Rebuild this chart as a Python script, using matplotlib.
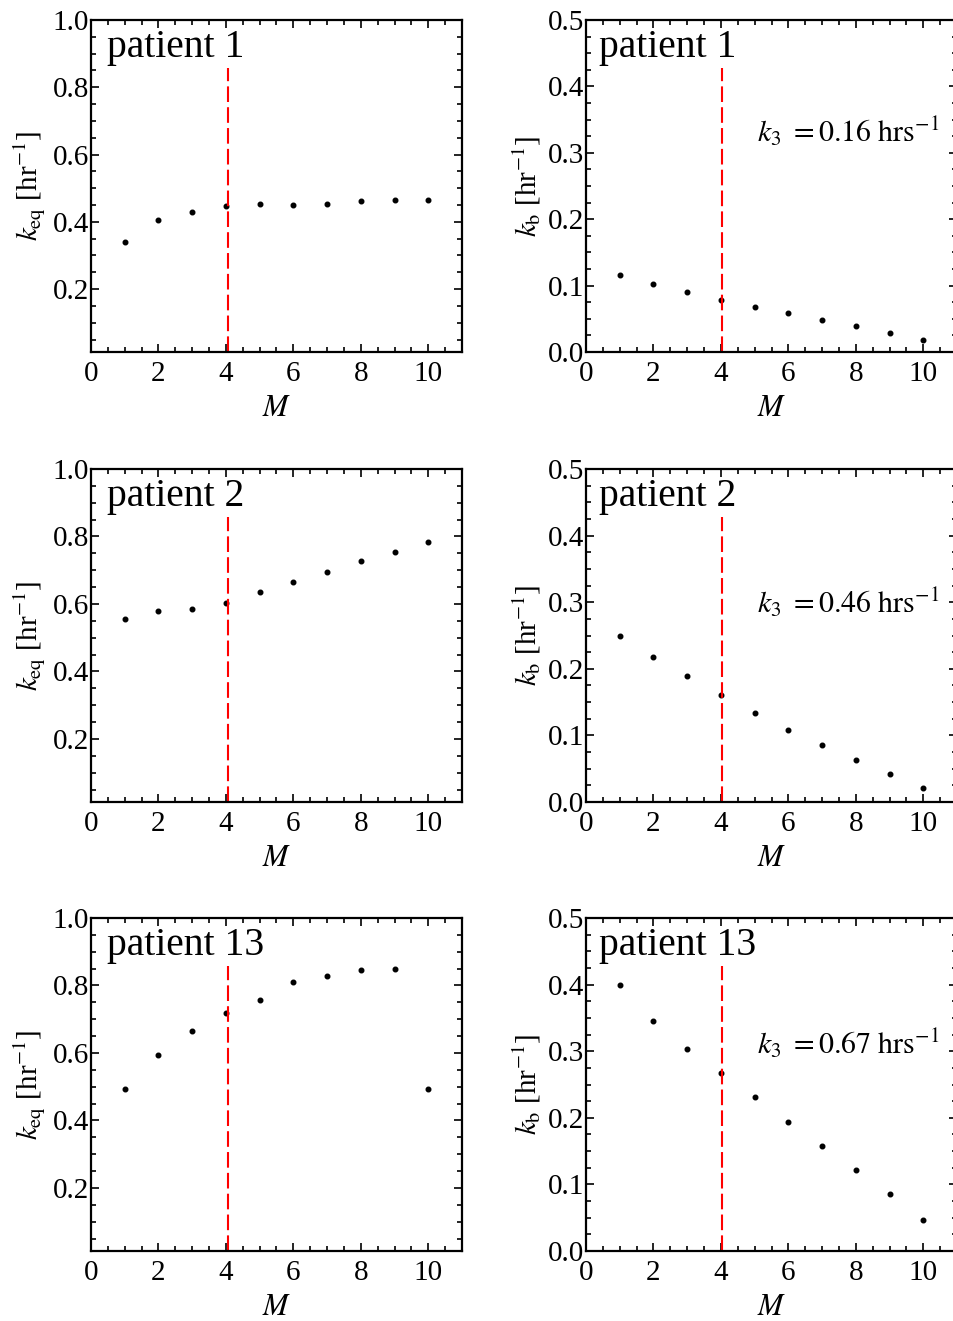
import numpy as np
import matplotlib
matplotlib.use("Agg")
import matplotlib.pyplot as plt
from matplotlib.ticker import MultipleLocator, FormatStrFormatter

# --- data ---
M = [1, 2, 3, 4, 5, 6, 7, 8, 9, 10]
patients = ["patient 1", "patient 2", "patient 13"]

keq_p1 = [0.341, 0.406, 0.430, 0.447, 0.452, 0.449, 0.454, 0.461, 0.464, 0.466]
keq_p2 = [0.556, 0.580, 0.585, 0.604, 0.634, 0.664, 0.695, 0.727, 0.755, 0.783]
keq_p13 = [0.492, 0.593, 0.664, 0.718, 0.758, 0.811, 0.829, 0.846, 0.850, 0.492]

kb_p1 = [0.116, 0.102, 0.090, 0.078, 0.068, 0.058, 0.048, 0.039, 0.029, 0.018]
kb_p2 = [0.250, 0.218, 0.189, 0.161, 0.134, 0.108, 0.085, 0.063, 0.042, 0.021]
kb_p13 = [0.399, 0.346, 0.304, 0.268, 0.231, 0.194, 0.158, 0.122, 0.085, 0.047]

k3_values = ["0.16", "0.46", "0.67"]
k3_text_y = [0.633, 0.567, 0.592]  # axes fraction of text baseline

keq_all = [keq_p1, keq_p2, keq_p13]
kb_all = [kb_p1, kb_p2, kb_p13]

plt.rcParams["font.family"] = ["Liberation Serif", "DejaVu Serif"]
plt.rcParams["mathtext.fontset"] = "stix"

fig = plt.figure(figsize=(9.54, 13.21), dpi=100)

W, H = 954.0, 1321.0
row_top = [20, 469, 918]
row_bot = [352, 802, 1251]
col_left = [91, 586]
ax_w = 371


def style_axes(ax, ymajor, yminor):
    ax.set_xlim(0, 11)
    ax.xaxis.set_major_locator(MultipleLocator(2))
    ax.xaxis.set_minor_locator(MultipleLocator(0.5))
    ax.yaxis.set_major_locator(MultipleLocator(ymajor))
    ax.yaxis.set_minor_locator(MultipleLocator(yminor))
    ax.yaxis.set_major_formatter(FormatStrFormatter("%.1f"))
    ax.tick_params(which="both", direction="in", top=True, right=True,
                   labelsize=21, width=1.2)
    ax.tick_params(axis="x", pad=6.5)
    ax.tick_params(axis="y", pad=1.5)
    ax.tick_params(which="major", length=6)
    ax.tick_params(which="minor", length=3.5)
    for s in ax.spines.values():
        s.set_linewidth(1.6)
    ax.set_xlabel(r"$M$", fontsize=22, labelpad=5)


for r in range(3):
    b = 1 - row_bot[r] / H
    h = (row_bot[r] - row_top[r]) / H

    # left column: k_eq
    ax = fig.add_axes([col_left[0] / W, b, ax_w / W, h])
    ax.plot(M, keq_all[r], "o", color="black", markersize=3.3)
    ax.axvline(4.06, ymax=0.855, color="red", lw=1.5, dashes=(7.5, 2.5))
    ax.set_ylim(0.013, 1.0)
    style_axes(ax, 0.2, 0.05)
    ax.set_yticks([0.2, 0.4, 0.6, 0.8, 1.0])
    ax.set_ylabel(r"$k_{\mathrm{eq}}$ [hr$^{-1}$]", fontsize=21, labelpad=3)
    ax.text(0.043, 0.889, patients[r], transform=ax.transAxes,
            fontsize=28.5, va="baseline", ha="left")

    # right column: k_b
    ax = fig.add_axes([col_left[1] / W, b, ax_w / W, h])
    ax.plot(M, kb_all[r], "o", color="black", markersize=3.3)
    ax.axvline(4.02, ymax=0.855, color="red", lw=1.5, dashes=(7.5, 2.5))
    ax.set_ylim(0, 0.5)
    style_axes(ax, 0.1, 0.025)
    ax.set_ylabel(r"$k_{\mathrm{b}}$ [hr$^{-1}$]", fontsize=21, labelpad=3)
    ax.text(0.035, 0.889, patients[r], transform=ax.transAxes,
            fontsize=28.5, va="baseline", ha="left")
    ax.text(0.461, k3_text_y[r],
            r"$k_3\ = %s\ \mathrm{hrs}^{-1}$" % k3_values[r],
            transform=ax.transAxes, fontsize=21.5, va="baseline", ha="left")

fig.savefig("out.png", dpi=100)
